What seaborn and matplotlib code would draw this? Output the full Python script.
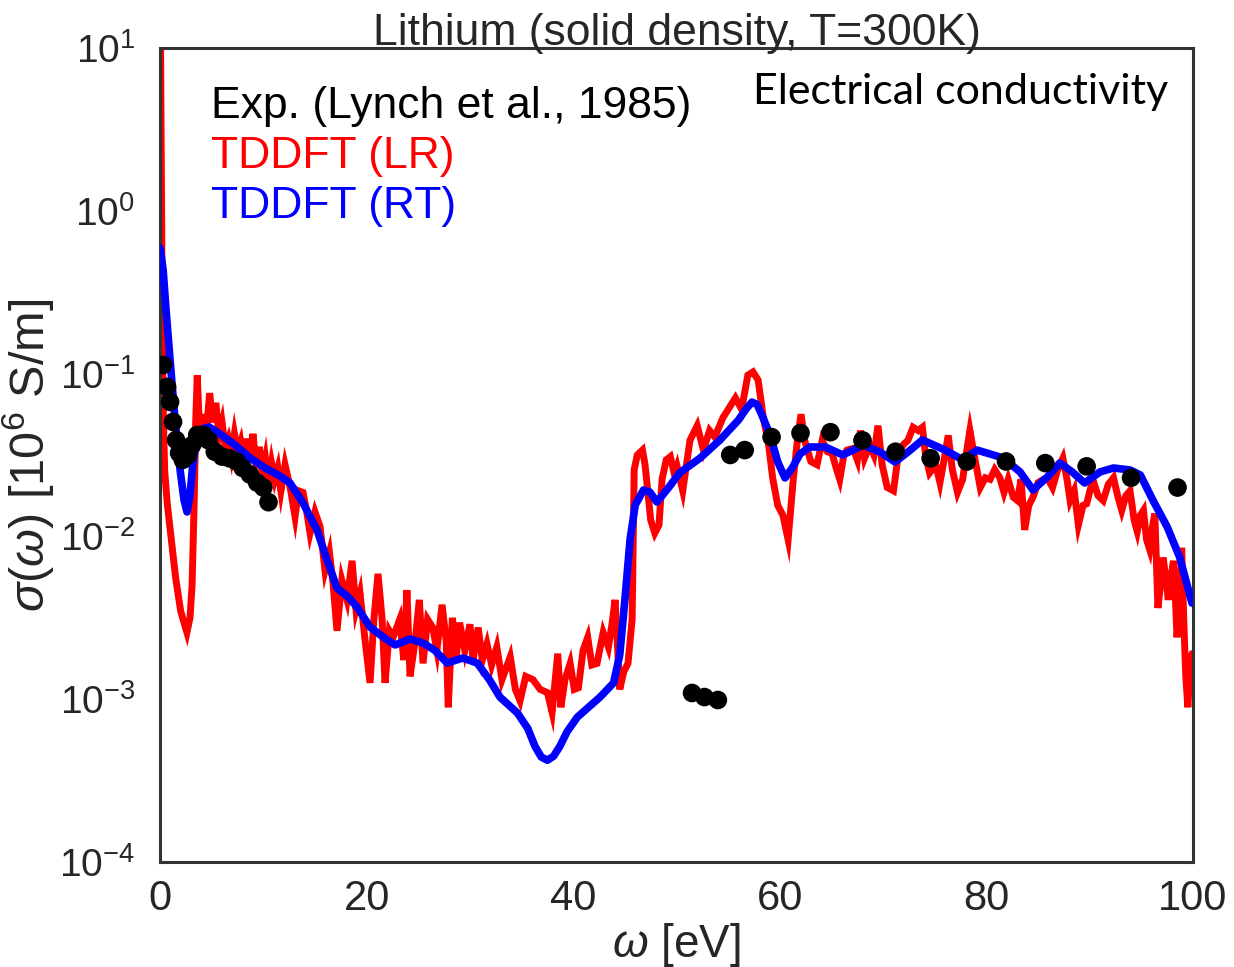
import numpy as np
import pandas as pd
import matplotlib
matplotlib.use("Agg")
import matplotlib.pyplot as plt
import seaborn as sns

# Photon energy (eV) and log10 of conductivity (10^6 S/m) for each data set
lr_energy = [0.0, 0.1, 0.2, 0.3, 0.45, 0.7, 1.0, 1.5, 2.0, 2.6, 2.9, 3.1, 3.3, 3.45, 3.6,
             3.9, 4.2, 4.5, 4.8, 5.1, 5.4, 5.7, 6.0, 6.3, 6.6, 6.9, 7.2, 7.5, 7.8, 8.1,
             8.4, 8.7, 9.0, 9.3, 9.6, 9.9, 10.2, 10.5, 10.8, 11.1, 11.4, 11.7, 12.1, 12.6,
             13.07, 13.4, 13.84, 14.2, 14.52, 15.0, 15.49, 15.97, 16.4, 16.75, 17.13, 17.6,
             18.1, 18.59, 18.97, 19.36, 19.85, 20.33, 20.7, 21.1, 21.5, 21.78, 22.2, 22.56,
             23.2, 23.6, 23.9, 24.2, 24.7, 25.1, 25.46, 25.9, 26.4, 26.8, 27.3, 27.7, 27.9,
             28.3, 28.65, 29.0, 29.5, 30.0, 30.3, 30.8, 31.2, 31.65, 32.1, 32.6, 33.1, 33.9,
             34.4, 34.85, 35.4, 36.1, 36.8, 37.5, 37.95, 38.5, 38.8, 39.2, 39.7, 40.1, 40.5,
             40.95, 41.4, 41.8, 42.3, 42.9, 43.4, 43.75, 44.05, 44.3, 44.5, 44.9, 45.3, 45.7,
             45.9, 46.2, 46.7, 46.95, 47.1, 47.5, 47.9, 48.3, 48.6, 49.0, 49.4, 49.8, 50.05,
             50.6, 51.3, 52.0, 52.6, 53.2, 53.7, 54.5, 55.0, 55.7, 56.3, 56.9, 57.4, 57.9,
             58.4, 58.9, 59.3, 59.8, 60.3, 60.8, 61.3, 61.7, 62.05, 62.4, 63.0, 63.6, 64.1,
             64.6, 65.05, 65.5, 65.8, 66.2, 66.5, 67.1, 67.5, 67.8, 68.2, 68.7, 69.1, 69.5,
             69.9, 70.4, 71.0, 71.4, 71.9, 72.4, 72.9, 73.4, 73.8, 74.1, 74.5, 75.1, 75.5,
             75.9, 76.3, 76.7, 77.2, 77.7, 78.1, 78.4, 78.9, 79.4, 79.9, 80.35, 80.8, 81.3,
             81.7, 82.1, 82.6, 83.0, 83.35, 83.7, 84.1, 84.5, 85.0, 85.5, 85.9, 86.4, 86.9,
             87.4, 87.8, 88.1, 88.5, 88.9, 89.35, 89.7, 90.3, 90.8, 91.3, 91.8, 92.3, 92.7,
             93.1, 93.5, 93.9, 94.3, 94.6, 94.9, 95.2, 95.5, 95.8, 96.1, 96.3, 96.6, 96.9,
             97.1, 97.4, 97.6, 97.9, 98.1, 98.3, 98.45, 98.7, 98.9, 99.1, 99.3, 99.5, 99.7,
             99.9]
lr_log10 = [1.5, 0.5, -0.5, -1.2, -1.6, -1.8, -1.97, -2.25, -2.46, -2.59, -2.5, -2.3, -1.8, -1.3, -1.01,
            -1.45, -1.25, -1.35, -1.12, -1.30, -1.18, -1.38, -1.30, -1.45, -1.40, -1.50, -1.37, -1.48, -1.42, -1.55,
            -1.40, -1.52, -1.37, -1.58, -1.45, -1.62, -1.52, -1.68, -1.55, -1.65, -1.58, -1.72, -1.56, -1.70,
            -1.88, -1.72, -1.73, -1.85, -1.98, -1.85, -1.94, -2.21, -2.10, -2.29, -2.58, -2.27,
            -2.39, -2.15, -2.45, -2.35, -2.64, -2.90, -2.51, -2.23, -2.51, -2.90, -2.58, -2.62,
            -2.51, -2.76, -2.33, -2.86, -2.64, -2.39, -2.78, -2.51, -2.56, -2.70, -2.42, -2.64, -3.05,
            -2.50, -2.76, -2.53, -2.70, -2.54, -2.76, -2.56, -2.76, -2.66, -2.79, -2.68, -2.88, -2.74,
            -2.94, -3.01, -2.86, -2.88, -2.94, -2.96, -3.08, -2.72, -3.05, -2.88, -2.78, -2.94, -2.93,
            -2.70, -2.62, -2.79, -2.78, -2.59, -2.68, -2.54, -2.39, -2.70, -2.94, -2.83, -2.78, -2.51,
            -1.59, -1.50, -1.47, -1.56, -1.65, -1.90, -1.98, -1.93, -1.65, -1.53, -1.51, -1.62, -1.57,
            -1.72, -1.41, -1.32, -1.47, -1.35, -1.39, -1.27, -1.22, -1.15, -1.22, -1.01, -0.99, -1.04,
            -1.27, -1.43, -1.64, -1.81, -1.87, -2.02, -1.65, -1.41, -1.25, -1.41, -1.54, -1.56, -1.41,
            -1.48, -1.49, -1.59, -1.65, -1.50, -1.47, -1.46, -1.53, -1.35, -1.52, -1.44, -1.50, -1.32,
            -1.56, -1.70, -1.72, -1.53, -1.44, -1.41, -1.33, -1.35, -1.33, -1.50, -1.61, -1.56, -1.67,
            -1.53, -1.38, -1.59, -1.73, -1.65, -1.47, -1.35, -1.53, -1.70, -1.64, -1.65, -1.59, -1.64,
            -1.73, -1.65, -1.76, -1.78, -1.65, -1.96, -1.81, -1.76, -1.67, -1.65, -1.64, -1.70, -1.59,
            -1.52, -1.65, -1.78, -1.72, -1.93, -1.81, -1.80, -1.65, -1.75, -1.78, -1.68, -1.64, -1.75,
            -1.84, -1.75, -1.72, -1.90, -1.97, -1.87, -1.84, -2.02, -2.08, -1.93, -1.86, -2.44, -2.27,
            -2.13, -2.27, -2.39, -2.24, -2.15, -2.39, -2.62, -2.39, -2.07, -2.51, -2.86, -3.05, -2.82,
            -2.72]

rt_energy = [0.0, 0.3, 0.58, 0.97, 1.45, 1.94, 2.32, 2.61, 2.9, 3.19, 3.58, 4.07, 4.74, 5.8, 7.26,
             8.71, 10.16, 11.6, 12.58, 13.84, 15.2, 16.17, 17.13, 18.2, 19.07, 20.33, 21.59,
             22.75, 24.2, 25.46, 26.6, 27.8, 29.3, 30.7, 31.9, 32.9, 34.6, 35.6, 36.3, 36.9,
             37.5, 38.1, 38.7, 39.4, 40.4, 42.6, 43.9, 44.5, 45.0, 45.5, 46.0, 46.8, 47.4,
             48.1, 49.2, 50.3, 52.3, 54.2, 56.0, 56.7, 57.3, 57.8, 58.3, 59.05, 59.8, 60.5,
             61.2, 61.95, 62.9, 64.4, 66.1, 68.05, 69.7, 71.15, 72.4, 73.8, 76.0, 77.7, 79.1,
             81.6, 83.25, 84.5, 85.9, 87.1, 88.3, 89.5, 91.0, 92.3, 93.9, 94.9, 96.1, 97.5,
             98.7, 99.9]
rt_log10 = [-0.229, -0.364, -0.609, -0.916, -1.285, -1.592, -1.776, -1.85, -1.746, -1.543, -1.396,
            -1.34, -1.328, -1.371, -1.439, -1.518, -1.58, -1.629, -1.672, -1.795, -1.961, -2.145,
            -2.317, -2.372, -2.434, -2.557, -2.618, -2.667, -2.63, -2.655, -2.70, -2.778, -2.747,
            -2.778, -2.882, -2.987, -3.085, -3.18, -3.29, -3.355, -3.375, -3.35, -3.29, -3.20,
            -3.11, -2.987, -2.90, -2.73, -2.39, -2.02, -1.807, -1.715, -1.727, -1.789, -1.703,
            -1.61, -1.518, -1.408, -1.285, -1.22, -1.175, -1.19, -1.26, -1.377, -1.543, -1.641,
            -1.58, -1.494, -1.451, -1.451, -1.5, -1.439, -1.482, -1.543, -1.482, -1.408, -1.47,
            -1.53, -1.47, -1.518, -1.604, -1.715, -1.635, -1.549, -1.604, -1.672, -1.604, -1.58,
            -1.592, -1.623, -1.776, -1.942, -2.127, -2.41]

exp_energy = [0.3, 0.68, 0.97, 1.26, 1.55, 1.84, 2.2, 2.7, 3.1, 3.6, 4.2, 4.7, 5.3, 6.0, 6.7,
              7.4, 8.0, 8.7, 9.4, 10.0, 10.5, 51.5, 52.7, 54.0, 55.2, 56.6, 59.2, 62.0, 64.9,
              68.0, 71.2, 74.6, 78.1, 81.9, 85.7, 89.7, 94.0, 98.5]
exp_log10 = [-0.947, -1.082, -1.174, -1.297, -1.408, -1.488, -1.53, -1.50, -1.44, -1.377, -1.377,
             -1.41, -1.48, -1.51, -1.52, -1.54, -1.58, -1.62, -1.67, -1.70, -1.79, -2.962, -2.987,
             -3.005, -1.50, -1.47, -1.39, -1.365, -1.36, -1.41, -1.48, -1.52, -1.54, -1.54, -1.55,
             -1.57, -1.64, -1.70]

series_labels = ["Exp. (Lynch et al., 1985)", "TDDFT (LR)", "TDDFT (RT)"]
series_colors = ["black", "red", "blue"]
x_ticks = [0, 20, 40, 60, 80, 100]

lr = pd.DataFrame({"omega": lr_energy, "sigma": 10.0 ** np.array(lr_log10)})
rt = pd.DataFrame({"omega": rt_energy, "sigma": 10.0 ** np.array(rt_log10)})
ex = pd.DataFrame({"omega": exp_energy, "sigma": 10.0 ** np.array(exp_log10)})

sns.set_style("white", {"axes.edgecolor": "0.2"})
plt.rcParams["font.family"] = ["Liberation Sans", "DejaVu Sans"]
plt.rcParams["mathtext.fontset"] = "custom"
plt.rcParams["mathtext.rm"] = "Liberation Sans"
plt.rcParams["mathtext.it"] = "Liberation Sans:italic"
plt.rcParams["axes.linewidth"] = 2.2
text_color = "0.15"

fig = plt.figure(figsize=(12.34, 9.67), dpi=100)
ax = fig.add_axes([0.1297, 0.1086, 0.8371, 0.8418])

sns.lineplot(data=lr, x="omega", y="sigma", ax=ax, color=series_colors[1], lw=5.0,
             sort=False, estimator=None, label=series_labels[1], zorder=2)
ax.lines[-1].set_solid_joinstyle("miter")
sns.lineplot(data=rt, x="omega", y="sigma", ax=ax, color=series_colors[2], lw=5.5,
             sort=False, estimator=None, label=series_labels[2], zorder=3)
ax.lines[-1].set_solid_joinstyle("round")
sns.scatterplot(data=ex, x="omega", y="sigma", ax=ax, color=series_colors[0], s=180,
                edgecolor="none", label=series_labels[0], zorder=4)

ax.set_yscale("log")
ax.set_xlim(0, 100)
ax.set_ylim(1e-4, 1e1)
ax.set_xticks(x_ticks)
ax.tick_params(axis="both", colors=text_color, length=0)
ax.tick_params(axis="x", labelsize=30, pad=12)
ax.tick_params(axis="y", labelsize=28, pad=18)
ax.minorticks_off()

ax.set_xlabel(r"$\omega$ [eV]", fontsize=33, color=text_color, labelpad=2)
ax.set_ylabel(r"$\sigma(\omega)$ [10$^{6}$ S/m]", fontsize=35, color=text_color, labelpad=2)
ax.set_title("Lithium (solid density, T=300K)", fontsize=32, color=text_color, pad=2)

handles, labels = ax.get_legend_handles_labels()
order = [labels.index(l) for l in series_labels]
leg = ax.legend([handles[i] for i in order], [labels[i] for i in order],
                loc="upper left", bbox_to_anchor=(0.028, 0.98), frameon=False,
                fontsize=32, handlelength=0, handletextpad=0, borderpad=0,
                labelspacing=0.2, labelcolor=series_colors)
for h in leg.legend_handles:
    h.set_visible(False)

ax.text(0.976, 0.946, "Electrical conductivity", transform=ax.transAxes,
        ha="right", va="center", fontsize=31, family=["Lato", "DejaVu Sans"], color="black")

fig.savefig("out.png", dpi=100)
